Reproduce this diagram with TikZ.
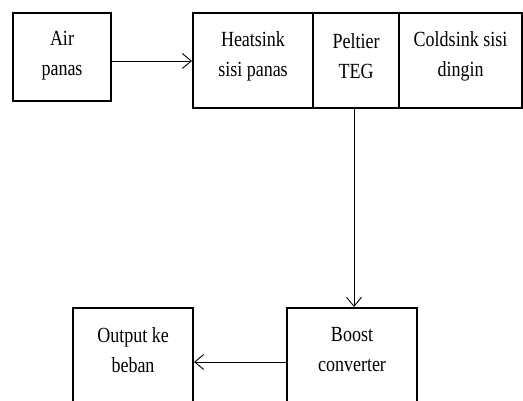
\documentclass[tikz,border=0pt]{standalone}
\usepackage{fontspec}
\setmainfont{Liberation Serif}
\usetikzlibrary{arrows.meta}
\begin{document}
\begin{tikzpicture}[x=1pt,y=-1pt,
  box/.style={draw=black, line width=2pt, rectangle, inner sep=0pt, anchor=north west},
  txt/.style={font=\fontsize{18}{25}\selectfont, align=center, yscale=1.2, inner sep=0pt},
  arr/.style={line width=0.9pt, -{Straight Barb[length=9pt,width=15pt,line width=0.9pt]}}]
  \clip (0,0) rectangle (523,401);
  \fill[white] (0,0) rectangle (523,401);
  % top row
  \node[box, minimum width=98, minimum height=88] (air) at (12,12) {};
  \node[box, minimum width=120, minimum height=95] (heat) at (192,12) {};
  \node[box, minimum width=86, minimum height=95] (pelt) at (312,12) {};
  \node[box, minimum width=123, minimum height=95] (cold) at (398,12) {};
  % bottom row
  \node[box, minimum width=120, minimum height=110] (out) at (72,307) {};
  \node[box, minimum width=130, minimum height=110] (boost) at (286,307) {};
  % labels
  \node[txt] (airt) at ([yshift=-44]air.north) {Air\\panas};
  \node[txt] (heatt) at ([yshift=-44]heat.north) {Heatsink\\sisi panas};
  \node[txt] (peltt) at ([yshift=-44]pelt.north) {Peltier\\TEG};
  \node[txt] (coldt) at ([yshift=-44]cold.north) {Coldsink sisi\\dingin};
  \node[txt] (outt) at ([yshift=-43]out.north) {Output ke\\beban};
  \node[txt] (boostt) at ([yshift=-43]boost.north) {Boost\\converter};
  % connectors
  \draw[arr] ([yshift=-4]air.east) -- ([yshift=-4]air.east -| heat.west);
  \draw[arr] ([xshift=-2]pelt.south) -- ([xshift=-2]pelt.south |- boost.north);
  \draw[arr] ([yshift=-55]boost.north west) -- ([yshift=-55]boost.north west -| out.east);
\end{tikzpicture}
\end{document}
